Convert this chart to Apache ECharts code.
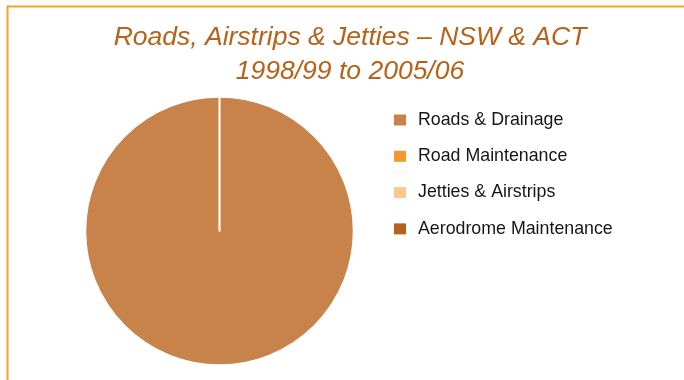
<!DOCTYPE html>
<html>
<head>
<meta charset="utf-8">
<script src="https://cdn.jsdelivr.net/npm/echarts@6/dist/echarts.min.js"></script>
<style>
  html, body { margin: 0; padding: 0; background: #fff; }
  #chart { width: 684px; height: 380px; }
</style>
</head>
<body>
<div id="chart"></div>
<script>
// Expenditure shares by works category
const categories = ['Roads & Drainage', 'Road Maintenance', 'Jetties & Airstrips', 'Aerodrome Maintenance'];
const values = [100, 0, 0, 0];
const colors = ['#C8834B', '#F7962A', '#FCC88E', '#B5621A'];
const titleLines = ['Roads, Airstrips & Jetties \u2013 NSW & ACT', '1998/99 to 2005/06'];

const chart = echarts.init(document.getElementById('chart'), null, { renderer: 'canvas' });

chart.setOption({
  animation: false,
  backgroundColor: '#fff',
  color: colors,
  title: {
    text: titleLines.join('\n'),
    left: 345,
    top: 16,
    textAlign: 'center',
    textStyle: {
      fontFamily: 'Liberation Sans, Arial, sans-serif',
      fontStyle: 'italic',
      fontWeight: 'normal',
      fontSize: 26.5,
      lineHeight: 34,
      color: '#B5621A'
    }
  },
  legend: {
    orient: 'vertical',
    left: 389,
    top: 105,
    itemWidth: 12,
    itemHeight: 11,
    itemGap: 16.3,
    icon: 'rect',
    selectedMode: false,
    data: categories,
    itemStyle: { borderWidth: 0 },
    textStyle: {
      fontFamily: 'Liberation Sans, Arial, sans-serif',
      fontSize: 17.8,
      lineHeight: 20,
      color: '#161616',
      padding: [0, 0, 0, 7]
    }
  },
  graphic: [
    { type: 'line', shape: { x1: 7, y1: 6.5, x2: 684, y2: 6.5 }, style: { stroke: '#F7A030', lineWidth: 2 } },
    { type: 'line', shape: { x1: 7.5, y1: 6, x2: 7.5, y2: 380 }, style: { stroke: '#F7A030', lineWidth: 2 } }
  ],
  series: [{
    type: 'pie',
    center: [219.5, 231],
    radius: 134,
    startAngle: 90,
    clockwise: true,
    label: { show: false },
    labelLine: { show: false },
    emphasis: { disabled: true },
    itemStyle: { borderColor: '#fff', borderWidth: 1.5 },
    data: categories.map((name, i) => ({ name, value: values[i] }))
  }]
});
</script>
</body>
</html>
